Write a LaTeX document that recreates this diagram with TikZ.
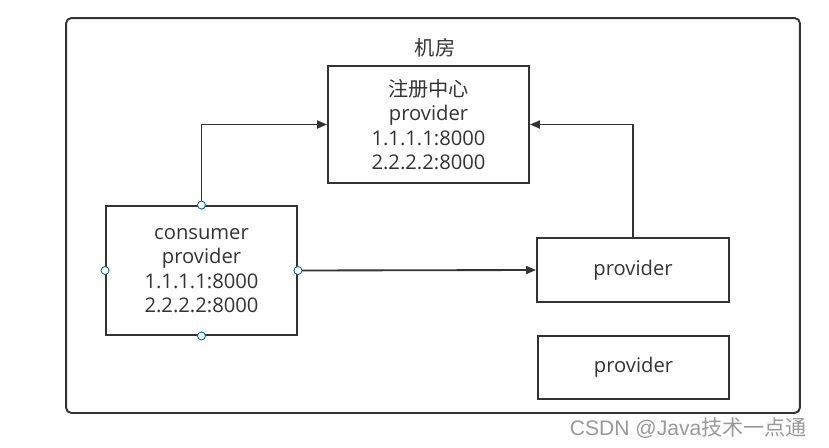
\documentclass[tikz,border=0pt]{standalone}
\usepackage{fontspec}
\setmainfont{Open Sans}
\newfontfamily\cjk{Noto Sans CJK SC}
\newfontfamily\arial{Liberation Sans}
\usetikzlibrary{positioning,arrows.meta}

\tikzset{
  every box/.style={draw=black!80, line width=1.1pt, align=center, inner sep=0pt, text=black!80},
  handle/.style={circle, draw=blue!45!cyan!70!black, fill=white, line width=0.5pt, inner sep=0pt, minimum size=0.16cm},
  link/.style={draw=black!80, line width=1.05pt, ->}
}

\begin{document}
\begin{tikzpicture}[x=0.02cm, y=-0.02cm, >={Triangle[length=2mm,width=1.6mm]},
  font=\fontsize{11.5}{13.9}\selectfont]
\useasboundingbox (0,0) rectangle (829,447);

% machine room
\node [every box, rounded corners=3pt, minimum width=14.68cm, minimum height=7.9cm] (room) at (433,215.5) {};
\node [text=black!80] (room-label) at (435,48) {\cjk 机房};

% registry and services
\node [every box, minimum width=4.02cm, minimum height=2.34cm] (registry) at (428.5,124.5)
  {{\cjk 注册中心}\\provider\\1.1.1.1:8000\\2.2.2.2:8000};
\node [every box, minimum width=3.82cm, minimum height=2.58cm] (consumer) at (201.5,270.5)
  {consumer\\provider\\1.1.1.1:8000\\2.2.2.2:8000};
\node [every box, minimum width=3.84cm, minimum height=1.28cm] (provider-1) at (633,270) {provider};
\node [every box, minimum width=3.82cm, minimum height=1.26cm] (provider-2) at (633.5,367.5) {provider};

\draw [link] (consumer.north) |- (registry.west);
\draw [link] (provider-1.north) |- (registry.east);
\draw [link] (consumer.east) -- (provider-1.west);

\foreach \a in {north,south,east,west}
  \node [handle] (handle-\a) at (consumer.\a) {};

\node [anchor=east, text=black!40, font=\fontsize{12}{13}\selectfont] (mark) at (813,428)
  {\arial CSDN @Java\cjk 技术一点通};

\end{tikzpicture}
\end{document}
